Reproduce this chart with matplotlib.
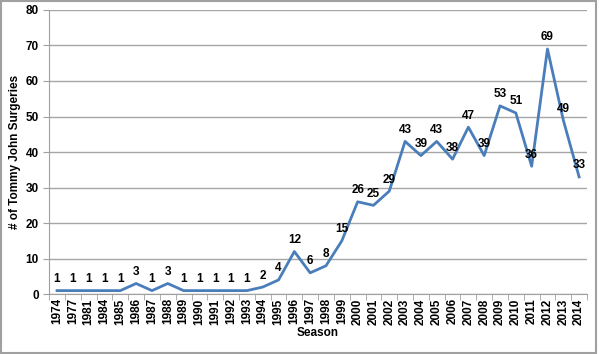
import matplotlib.pyplot as plt

# Tommy John surgeries by season
seasons = ['1974', '1977', '1981', '1984', '1985', '1986', '1987', '1988', '1989',
           '1990', '1991', '1992', '1993', '1994', '1995', '1996', '1997', '1998',
           '1999', '2000', '2001', '2002', '2003', '2004', '2005', '2006', '2007',
           '2008', '2009', '2010', '2011', '2012', '2013', '2014']
surgeries = [1, 1, 1, 1, 1, 3, 1, 3, 1, 1, 1, 1, 1, 2, 4, 12, 6, 8, 15, 26, 25,
             29, 43, 39, 43, 38, 47, 39, 53, 51, 36, 69, 49, 33]

plt.rcParams['font.family'] = ['Liberation Sans', 'DejaVu Sans']
fs = 8.5

fig = plt.figure(figsize=(5.99, 3.54), dpi=100)
ax = fig.add_axes([0.082, 0.169, 0.898, 0.803])

x = list(range(len(seasons)))
ax.plot(x, surgeries, color='#4a7ebb', linewidth=2, zorder=3)

for xi, v in zip(x, surgeries):
    ax.annotate(str(v), (xi, v), xytext=(0, 4), textcoords='offset points',
                ha='center', va='bottom', fontsize=fs, fontweight='bold')

ax.set_xlim(-0.5, len(seasons) - 0.5)
ax.set_ylim(0, 80)
ax.set_yticks(range(0, 81, 10))
ax.set_xticks(x)
ax.set_xticklabels(seasons, rotation=90, fontsize=fs, fontweight='bold')
ax.set_xticks([i - 0.5 for i in range(len(seasons) + 1)], minor=True)
ax.tick_params(axis='x', which='major', length=0, pad=3)
ax.tick_params(axis='x', which='minor', length=4, color='#a0a0a0')
ax.tick_params(axis='y', length=4, color='#a0a0a0', labelsize=fs)
for lbl in ax.get_yticklabels():
    lbl.set_fontweight('bold')

ax.yaxis.grid(True, color='#a6a6a6', linewidth=1)
ax.set_axisbelow(True)
for side in ['top', 'right']:
    ax.spines[side].set_visible(False)
ax.spines['left'].set_color('#a0a0a0')
ax.spines['bottom'].set_color('#a0a0a0')

ax.set_xlabel('Season', fontsize=fs, fontweight='bold', labelpad=2)
ax.set_ylabel('# of Tommy John Surgeries', fontsize=fs, fontweight='bold', labelpad=3)

fig.patches.append(plt.Rectangle((0.002, 0.002), 0.993, 0.996, transform=fig.transFigure,
                                 fill=False, edgecolor='#a0a0a0', linewidth=1.5))

fig.savefig('out.png', dpi=100)
